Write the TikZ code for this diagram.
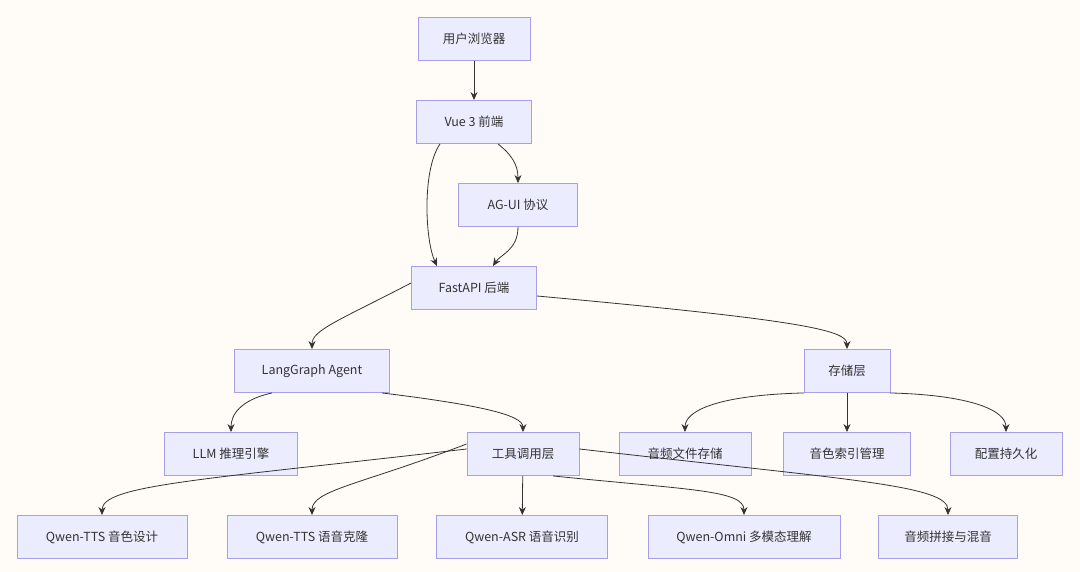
\documentclass[tikz,border=0pt]{standalone}
\usepackage{fontspec}
\setmainfont{Noto Sans CJK SC}
\usetikzlibrary{arrows.meta,positioning}
\definecolor{boxfill}{HTML}{ECECFF}
\definecolor{boxline}{HTML}{A99FE6}
\definecolor{paper}{HTML}{FFFCF8}
\definecolor{ink}{HTML}{333333}
\tikzset{
  box/.style={draw=boxline, fill=boxfill, line width=0.9pt, minimum height=43pt,
    text=ink, font=\fontsize{12.5}{14}\selectfont, inner sep=0pt},
  link/.style={draw=ink, line width=0.8pt, -{Stealth[length=8pt,width=7pt]}}
}
\begin{document}
\begin{tikzpicture}[x=1pt,y=-1pt]
\fill[paper] (0,0) rectangle (1080,572);
\useasboundingbox (0,0) rectangle (1080,572);
% top column
\node[box, minimum width=112pt] (browser) at (474,39) {用户浏览器};
\node[box, minimum width=115pt] (vue) at (474,122) {Vue 3 前端};
\node[box, minimum width=119pt] (agui) at (518,205) {AG-UI 协议};
\node[box, minimum width=125pt] (api) at (474,288) {FastAPI 后端};
% second level
\node[box, minimum width=155pt] (agent) at (312,371) {LangGraph Agent};
\node[box, minimum width=86pt] (store) at (847,371) {存储层};
\node[box, minimum width=133pt] (llm) at (231,454) {LLM 推理引擎};
\node[box, minimum width=112pt] (tools) at (523,454) {工具调用层};
\node[box, minimum width=132pt] (audio) at (685,454) {音频文件存储};
\node[box, minimum width=127pt] (voice) at (847,454) {音色索引管理};
\node[box, minimum width=112pt] (conf) at (1006,454) {配置持久化};
% tools
\node[box, minimum width=170pt] (design) at (102,537) {Qwen-TTS 音色设计};
\node[box, minimum width=170pt] (clone) at (312,537) {Qwen-TTS 语音克隆};
\node[box, minimum width=171pt] (asr) at (522,537) {Qwen-ASR 语音识别};
\node[box, minimum width=192pt] (omni) at (744,537) {Qwen-Omni 多模态理解};
\node[box, minimum width=139pt] (mix) at (948,537) {音频拼接与混音};

\draw[link] (browser) -- (vue);
\draw[link] ([xshift=-34pt]vue.south) .. controls (422,170) and (425,240) .. ([xshift=-37pt]api.north);
\draw[link] ([xshift=24pt]vue.south) .. controls (512,155) and (518,165) .. (agui.north);
\draw[link] (agui.south) .. controls (518,250) and (500,255) .. ([xshift=19pt]api.north);
\draw[link] ([yshift=5pt]api.west) .. controls (340,320) and (312,330) .. (agent.north);
\draw[link] ([yshift=-8pt]api.east) .. controls (800,320) and (847,330) .. (store.north);
\draw[link] ([xshift=-40pt]agent.south) .. controls (240,400) and (231,415) .. (llm.north);
\draw[link] ([xshift=70pt]agent.south) .. controls (480,405) and (523,415) .. (tools.north);
\draw[link] ([xshift=-43pt]store.south) .. controls (720,395) and (685,410) .. (audio.north);
\draw[link] (store) -- (voice);
\draw[link] ([xshift=43pt]store.south) .. controls (970,395) and (1006,410) .. (conf.north);
\draw[link] ([yshift=5pt]tools.west) .. controls (200,480) and (102,485) .. (design.north);
\draw[link] ([yshift=10pt]tools.west) .. controls (360,485) and (312,490) .. (clone.north);
\draw[link] (tools) -- (asr);
\draw[link] ([xshift=30pt]tools.south) .. controls (690,490) and (744,490) .. (omni.north);
\draw[link] ([yshift=5pt]tools.east) .. controls (850,480) and (948,485) .. (mix.north);
\end{tikzpicture}
\end{document}
